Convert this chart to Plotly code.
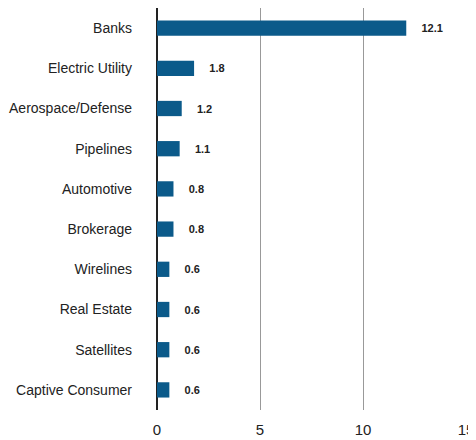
import plotly.graph_objects as go

categories = ["Banks", "Electric Utility", "Aerospace/Defense", "Pipelines", "Automotive",
              "Brokerage", "Wirelines", "Real Estate", "Satellites", "Captive Consumer"]
values = [12.1, 1.8, 1.2, 1.1, 0.8, 0.8, 0.6, 0.6, 0.6, 0.6]
x_ticks = [0, 5, 10, 15]

fig = go.Figure(go.Bar(
    x=values, y=categories, orientation="h",
    marker=dict(color="#0B5A8A", line=dict(width=0)),
    text=[f"{v:.1f}" for v in values],
    texttemplate="    %{text}",
    textposition="outside",
    cliponaxis=False,
    textfont=dict(family="Liberation Sans", size=11, color="#222222", weight="bold"),
    width=0.38,
))

fig.update_layout(
    width=468, height=432,
    margin=dict(l=149, r=10, t=0, b=30, autoexpand=False),
    plot_bgcolor="white", paper_bgcolor="white",
    showlegend=False,
    font=dict(family="Liberation Sans", color="#222222"),
    xaxis=dict(range=[0, 15], tickvals=x_ticks, showgrid=True, gridcolor="#999999",
               gridwidth=1, zeroline=True, zerolinecolor="#222222", zerolinewidth=1.5,
               tickfont=dict(size=15), ticklabelstandoff=9, showline=False,
               automargin=False),
    yaxis=dict(categoryorder="array", categoryarray=categories[::-1],
               tickfont=dict(size=14), ticklabelstandoff=24, showgrid=False,
               automargin=False),
)

fig.write_html("out.html")
